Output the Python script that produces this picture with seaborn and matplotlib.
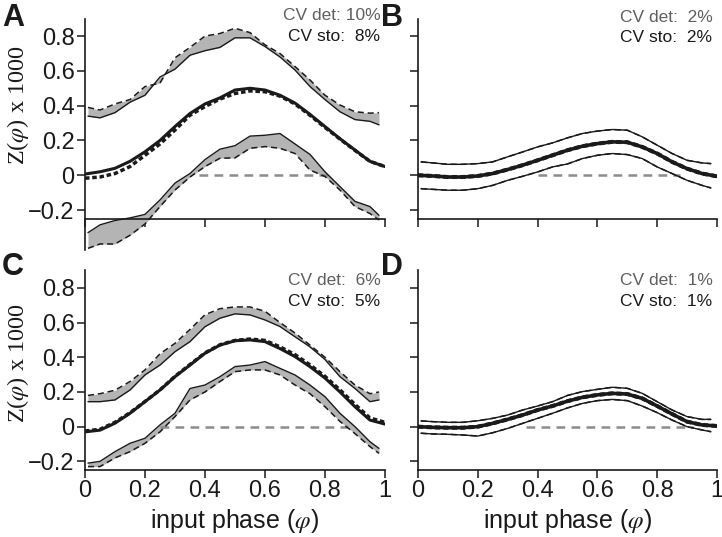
import matplotlib
matplotlib.use("Agg")
from matplotlib import pyplot as plt
import numpy as np
import pandas as pd
import seaborn as sns

# x grids: envelopes are sampled a bit inside [0, 1], the mean curves span it
x_env = [0.01, 0.05, 0.10, 0.15, 0.20, 0.25, 0.30, 0.35, 0.40, 0.45, 0.50,
         0.55, 0.60, 0.65, 0.70, 0.75, 0.80, 0.85, 0.90, 0.95, 0.98]
x_ctr = [0.00, 0.05, 0.10, 0.15, 0.20, 0.25, 0.30, 0.35, 0.40, 0.45, 0.50,
         0.55, 0.60, 0.65, 0.70, 0.75, 0.80, 0.85, 0.90, 0.95, 1.00]

# panel A
a_up_solid = [0.34, 0.33, 0.36, 0.42, 0.46, 0.565, 0.61, 0.69, 0.716, 0.735, 0.79,
              0.79, 0.74, 0.68, 0.605, 0.51, 0.435, 0.365, 0.32, 0.31, 0.29]
a_up_dash = [0.39, 0.375, 0.41, 0.435, 0.51, 0.53, 0.675, 0.735, 0.80, 0.815, 0.845,
             0.82, 0.75, 0.70, 0.625, 0.548, 0.46, 0.404, 0.365, 0.357, 0.36]
a_ctr_solid = [0.007, 0.02, 0.04, 0.08, 0.135, 0.2, 0.28, 0.355, 0.41, 0.445, 0.49,
               0.50, 0.49, 0.46, 0.415, 0.35, 0.28, 0.21, 0.145, 0.08, 0.05]
a_ctr_dot = [-0.017, -0.01, 0.01, 0.05, 0.115, 0.18, 0.26, 0.345, 0.395, 0.438, 0.47,
             0.485, 0.48, 0.455, 0.41, 0.345, 0.275, 0.208, 0.143, 0.08, 0.05]
a_lo_solid = [-0.33, -0.285, -0.26, -0.245, -0.225, -0.142, -0.045, 0.01, 0.09, 0.15, 0.17,
              0.225, 0.23, 0.24, 0.18, 0.12, 0.02, -0.065, -0.15, -0.18, -0.23]
a_lo_dash = [-0.42, -0.395, -0.395, -0.345, -0.28, -0.18, -0.085, -0.01, 0.05, 0.098, 0.10,
             0.155, 0.165, 0.155, 0.125, 0.03, -0.007, -0.085, -0.18, -0.22, -0.257]

# panel B
b_up = [0.077, 0.071, 0.063, 0.063, 0.067, 0.077, 0.106, 0.134, 0.163, 0.186, 0.215,
        0.24, 0.254, 0.263, 0.259, 0.221, 0.173, 0.125, 0.086, 0.071, 0.067]
b_ctr = [0.0, -0.004, -0.01, -0.01, -0.004, 0.01, 0.033, 0.058, 0.086, 0.115, 0.144,
         0.167, 0.182, 0.192, 0.19, 0.163, 0.125, 0.077, 0.038, 0.01, -0.006]
b_lo = [-0.077, -0.081, -0.086, -0.086, -0.077, -0.058, -0.029, -0.006, 0.019, 0.048, 0.065,
        0.096, 0.115, 0.125, 0.119, 0.096, 0.048, 0.01, -0.029, -0.058, -0.073]

# panel C
c_up_solid = [0.144, 0.144, 0.154, 0.211, 0.298, 0.355, 0.432, 0.49, 0.576, 0.625, 0.65,
              0.644, 0.615, 0.577, 0.518, 0.46, 0.387, 0.288, 0.22, 0.144, 0.154]
c_up_dash = [0.18, 0.19, 0.21, 0.26, 0.327, 0.42, 0.48, 0.56, 0.645, 0.68, 0.69,
             0.69, 0.665, 0.60, 0.54, 0.47, 0.40, 0.317, 0.24, 0.19, 0.20]
c_ctr_solid = [-0.03, -0.02, 0.02, 0.077, 0.144, 0.211, 0.288, 0.355, 0.423, 0.47, 0.495,
               0.50, 0.49, 0.45, 0.404, 0.346, 0.28, 0.20, 0.115, 0.038, 0.015]
c_ctr_dot = [-0.025, -0.015, 0.025, 0.08, 0.145, 0.212, 0.29, 0.358, 0.425, 0.472, 0.497,
             0.505, 0.497, 0.46, 0.415, 0.356, 0.29, 0.212, 0.128, 0.05, 0.025]
c_lo_solid = [-0.21, -0.20, -0.144, -0.096, -0.067, 0.01, 0.077, 0.22, 0.24, 0.288, 0.346,
              0.355, 0.375, 0.336, 0.298, 0.24, 0.173, 0.077, 0.0, -0.087, -0.125]
c_lo_dash = [-0.23, -0.23, -0.18, -0.144, -0.096, -0.03, 0.058, 0.154, 0.20, 0.26, 0.317,
             0.327, 0.327, 0.298, 0.24, 0.19, 0.115, 0.03, -0.04, -0.115, -0.154]

# panel D
d_up = [0.033, 0.029, 0.025, 0.025, 0.034, 0.048, 0.067, 0.096, 0.119, 0.144, 0.18,
        0.202, 0.215, 0.227, 0.221, 0.192, 0.144, 0.096, 0.058, 0.042, 0.042]
d_ctr = [0.0, -0.004, -0.006, -0.006, 0.0, 0.019, 0.042, 0.067, 0.096, 0.119, 0.147,
         0.169, 0.183, 0.192, 0.188, 0.163, 0.119, 0.073, 0.029, 0.01, 0.004]
d_lo = [-0.038, -0.042, -0.044, -0.048, -0.054, -0.035, -0.01, 0.019, 0.048, 0.077, 0.108,
        0.134, 0.15, 0.157, 0.15, 0.119, 0.081, 0.038, 0.0, -0.019, -0.029]

# stretch of the grey zero line, CV texts
zero_spans = {"A": (0.38, 0.81), "B": (0.40, 0.876), "C": (0.25, 0.878), "D": (0.36, 0.92)}
cv_det = {"A": "10%", "B": " 2%", "C": " 6%", "D": " 1%"}
cv_sto = {"A": " 8%", "B": " 2%", "C": " 5%", "D": " 1%"}

y_ticks = [-0.2, 0, 0.2, 0.4, 0.6, 0.8]
y_ticklabels = ["\u22120.2", "0", "0.2", "0.4", "0.6", "0.8"]
x_ticks = [0, 0.2, 0.4, 0.6, 0.8, 1.0]
x_ticklabels = ["0", "0.2", "0.4", "0.6", "0.8", "1"]

sns.set_theme(style="ticks")
plt.rcParams["font.family"] = ["Liberation Sans", "DejaVu Sans"]
plt.rcParams["mathtext.fontset"] = "stix"

FILL = "#b4b4b4"
ZERO = "#8c8c8c"
DASH = (0, (4, 2.5))
DOT = (0, (1.3, 0.8))


def draw_panel(ax, name, up_s, up_d, ctr_s, ctr_d, lo_s, lo_d, ctr_lw=2.2):
    env = pd.DataFrame({"x": x_env, "up_s": up_s, "up_d": up_d, "lo_s": lo_s, "lo_d": lo_d})
    ctr = pd.DataFrame({"x": x_ctr, "s": ctr_s, "d": ctr_d})
    ax.fill_between(env["x"], env["up_s"], env["up_d"], color=FILL, lw=0)
    ax.fill_between(env["x"], env["lo_s"], env["lo_d"], color=FILL, lw=0)
    z0, z1 = zero_spans[name]
    ax.hlines(0, z0, z1, colors=ZERO, linestyles=(0, (3.5, 2.5)), lw=1.8, zorder=1)
    for col in ["up_s", "lo_s"]:
        sns.lineplot(data=env, x="x", y=col, ax=ax, color="k", lw=1.0)
    for col in ["up_d", "lo_d"]:
        sns.lineplot(data=env, x="x", y=col, ax=ax, color="k", lw=1.1, linestyle=DASH)
    sns.lineplot(data=ctr, x="x", y="s", ax=ax, color="k", lw=ctr_lw)
    sns.lineplot(data=ctr, x="x", y="d", ax=ax, color="k", lw=ctr_lw + 0.3, linestyle=DOT)

    ax.set_xlim(0, 1)
    ax.set_ylim(-0.43, 0.9)
    ax.set_xticks(x_ticks)
    ax.set_xticklabels(x_ticklabels)
    ax.set_yticks(y_ticks)
    ax.set_yticklabels(y_ticklabels)
    ax.set_xlabel("")
    ax.set_ylabel("")
    for s in ["top", "right"]:
        ax.spines[s].set_visible(False)
    ax.spines["bottom"].set_position(("data", -0.25))
    ax.spines["left"].set_bounds(-0.43 if name == "A" else -0.25, 0.9)
    for s in ["left", "bottom"]:
        ax.spines[s].set_linewidth(1.2)
        ax.spines[s].set_color("k")
    ax.tick_params(axis="both", direction="out", length=5.5, width=1.1, color="k",
                   labelsize=17, pad=2, labelcolor="k")
    ax.patch.set_alpha(0)


fig = plt.figure(figsize=(7.22, 5.37), dpi=100)
ax_a = fig.add_axes([0.1177, 0.5343, 0.4155, 0.4309])
ax_b = fig.add_axes([0.5789, 0.5343, 0.4141, 0.4309])
ax_c = fig.add_axes([0.1177, 0.0665, 0.4155, 0.4298])
ax_d = fig.add_axes([0.5789, 0.0665, 0.4141, 0.4298])

draw_panel(ax_a, "A", a_up_solid, a_up_dash, a_ctr_solid, a_ctr_dot, a_lo_solid, a_lo_dash)
draw_panel(ax_b, "B", b_up, b_up, b_ctr, b_ctr, b_lo, b_lo, ctr_lw=2.6)
draw_panel(ax_c, "C", c_up_solid, c_up_dash, c_ctr_solid, c_ctr_dot, c_lo_solid, c_lo_dash)
draw_panel(ax_d, "D", d_up, d_up, d_ctr, d_ctr, d_lo, d_lo, ctr_lw=2.6)

for ax in [ax_a, ax_b]:
    ax.tick_params(labelbottom=False)
for ax in [ax_b, ax_d]:
    ax.tick_params(labelleft=False)

for ax in [ax_a, ax_c]:
    ax.set_ylabel(r"Z($\varphi$) x 1000", fontfamily="Liberation Serif", fontsize=17.5, color="k")
ax_a.yaxis.set_label_coords(-0.18, 0.625)
ax_c.yaxis.set_label_coords(-0.18, 0.60)
for ax in [ax_c, ax_d]:
    ax.set_xlabel(r"input phase ($\varphi$)", fontsize=18, color="k", labelpad=3)

cv_pos = {"A": (1.014, 0.921), "B": (1.006, 0.919), "C": (0.955, 0.864), "D": (0.955, 0.864)}
for name, ax in zip("ABCD", [ax_a, ax_b, ax_c, ax_d]):
    y1, y2 = cv_pos[name]
    ax.text(0.985, y1, "CV det: " + cv_det[name], transform=ax.transAxes, ha="right",
            va="center", fontsize=12.5, color="#5f5f5f")
    ax.text(0.985, y2, "CV sto: " + cv_sto[name], transform=ax.transAxes, ha="right",
            va="center", fontsize=12.5, color="k")

letters = {"A": (0.003, 0.966), "B": (0.528, 0.967), "C": (0.003, 0.503), "D": (0.528, 0.503)}
for name, (lx, ly) in letters.items():
    fig.text(lx, ly, name, fontsize=22, fontweight="bold", ha="left", va="center", color="k")

fig.savefig("out.png", dpi=100)
